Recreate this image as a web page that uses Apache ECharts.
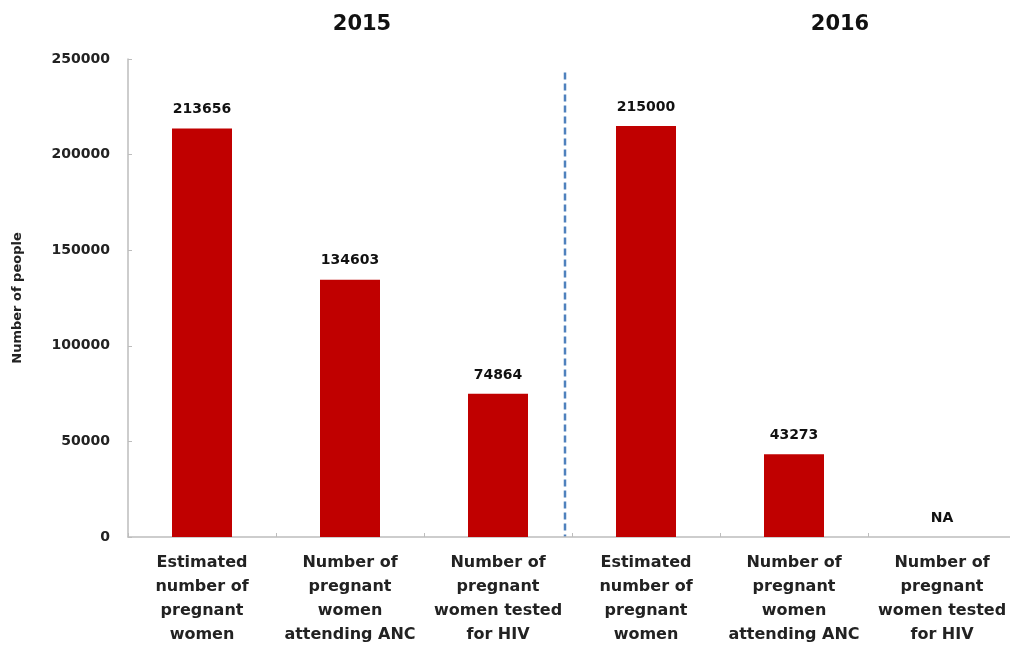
<!DOCTYPE html>
<html><head><meta charset="utf-8">
<script src="https://cdn.jsdelivr.net/npm/echarts@6/dist/echarts.min.js"></script>
<style>html,body{margin:0;padding:0;background:#fff}#c{width:1010px;height:646px}</style>
</head><body><div id="c"></div>
<script>
const categories = [
  'Estimated\nnumber of\npregnant\nwomen',
  'Number of\npregnant\nwomen\nattending ANC',
  'Number of\npregnant\nwomen tested\nfor HIV',
  'Estimated\nnumber of\npregnant\nwomen',
  'Number of\npregnant\nwomen\nattending ANC',
  'Number of\npregnant\nwomen tested\nfor HIV'
];
const values = [213656, 134603, 74864, 215000, 43273, null];
const yearLabels = ['2015', '2016'];
const yTicks = [0, 50000, 100000, 150000, 200000, 250000];

const FONT = 'DejaVu Sans';
const chart = echarts.init(document.getElementById('c'));
chart.setOption({
  animation: false,
  backgroundColor: '#fff',
  grid: {left: 128, width: 888, top: 59, bottom: 109, outerBoundsMode: 'none', containLabel: false},
  xAxis: {
    type: 'category', data: categories,
    axisLine: {lineStyle: {color: '#bdbdbd', width: 1.5}},
    axisTick: {show: true, inside: true, length: 4, lineStyle: {color: '#bdbdbd'}},
    axisLabel: {interval: 0, margin: 14, color: '#222', fontFamily: FONT, fontWeight: 'bold', fontSize: 16, lineHeight: 24, align: 'center'}
  },
  yAxis: {
    type: 'value', min: yTicks[0], max: yTicks[yTicks.length - 1], interval: 50000,
    name: 'Number of people', nameLocation: 'middle', nameGap: 104, nameRotate: 90,
    nameTextStyle: {color: '#222', fontFamily: FONT, fontWeight: 'bold', fontSize: 13},
    splitLine: {show: false},
    axisLine: {show: true, lineStyle: {color: '#bdbdbd', width: 1.5}},
    axisTick: {show: true, inside: true, length: 4, lineStyle: {color: '#bdbdbd'}},
    axisLabel: {margin: 18, color: '#222', fontFamily: FONT, fontWeight: 'bold', fontSize: 14, formatter: v => String(v)}
  },
  series: [{
    type: 'bar', barWidth: 60,
    data: values.map(v => v == null ? 0 : v),
    itemStyle: {color: '#c00000'},
    label: {
      show: true, position: 'top', distance: 12, color: '#111',
      fontFamily: FONT, fontWeight: 'bold', fontSize: 14,
      formatter: p => values[p.dataIndex] == null ? 'NA' : String(values[p.dataIndex])
    }
  }]
});

function drawExtras() {
  const c2 = chart.convertToPixel({xAxisIndex: 0}, 2);
  const c3 = chart.convertToPixel({xAxisIndex: 0}, 3);
  const xMid = (c2 + c3) / 2 - 7;
  const y0 = chart.convertToPixel({yAxisIndex: 0}, 0);
  const yTop = chart.convertToPixel({yAxisIndex: 0}, 243000);
  const c0 = chart.convertToPixel({xAxisIndex: 0}, 0);
  const c5 = chart.convertToPixel({xAxisIndex: 0}, 5);
  chart.setOption({
    graphic: [
      {type: 'line', shape: {x1: xMid, y1: yTop, x2: xMid, y2: y0},
       style: {stroke: '#4f81bd', lineWidth: 2.5, lineDash: [7, 4]}},
      {type: 'text', x: (c0 + c2) / 2 + 12, y: 25,
       style: {text: yearLabels[0], font: 'bold 21px "DejaVu Sans"', fill: '#111', textAlign: 'center', textVerticalAlign: 'middle'}},
      {type: 'text', x: (c3 + c5) / 2 + 46, y: 25,
       style: {text: yearLabels[1], font: 'bold 21px "DejaVu Sans"', fill: '#111', textAlign: 'center', textVerticalAlign: 'middle'}}
    ]
  });
}
drawExtras();
</script>
</body></html>
